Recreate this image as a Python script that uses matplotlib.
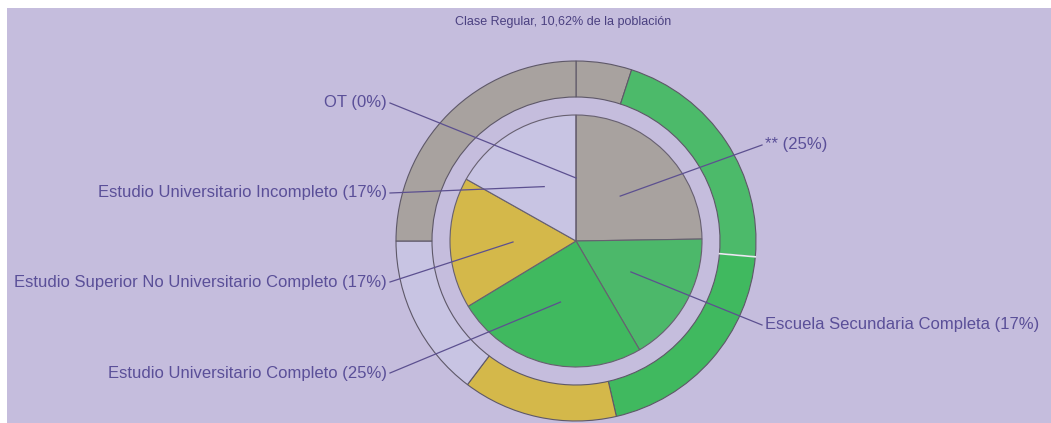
import matplotlib
matplotlib.use('Agg')
from matplotlib import pyplot as plt
import numpy as np

plt.rcParams['font.family'] = ['Liberation Sans', 'DejaVu Sans']

title = 'Clase Regular, 10,62% de la población'

# inner pie, clockwise from 12 o'clock
labels = ['** (25%)', 'Escuela Secundaria Completa (17%)', 'Estudio Universitario Completo (25%)',
          'Estudio Superior No Universitario Completo (17%)', 'Estudio Universitario Incompleto (17%)',
          'OT (0%)']
values = [25, 17, 25, 17, 17, 0]
colors = ['#a8a29f', '#4cb86a', '#40b95f', '#d4b84a', '#c8c4e3', '#a8a29f']

# outer ring, clockwise from 12 o'clock
outer_values = [5, 21.4, 20, 13.9, 14.7, 25]
outer_colors = ['#a8a29f', '#4cba6a', '#40b95f', '#d4b84a', '#c8c4e3', '#a8a29f']

# label positions (x, y in pixels from top) and side
label_pos = [(765, 145, 'left'), (765, 325, 'left'), (387, 373, 'right'),
             (387, 282, 'right'), (387, 193, 'right'), (387, 103, 'right')]

W, H = 1051, 423
bg = '#c5bddd'
txt = '#5a4f98'
cx, cy = 576, H - 241
r_in = 126
r_out = 180
ring_w = 36

fig = plt.figure(figsize=(W / 100, H / 100), dpi=100, facecolor='white')
ax = fig.add_axes([7 / W, 0, (W - 7) / W, (H - 8) / H])

wedges, _ = ax.pie(values, radius=r_in, center=(cx, cy), startangle=90, counterclock=False,
                   colors=colors, frame=True,
                   wedgeprops=dict(edgecolor='#676070', linewidth=0.8))
ring, _ = ax.pie(outer_values, radius=r_out, center=(cx, cy), startangle=90, counterclock=False,
                 colors=outer_colors, frame=True,
                 wedgeprops=dict(width=ring_w, edgecolor='#5e5868', linewidth=0.8))

# light seam between the two green ring pieces
a = np.deg2rad(ring[2].theta2)
ax.plot([cx + (r_out - ring_w) * np.cos(a), cx + r_out * np.cos(a)],
        [cy + (r_out - ring_w) * np.sin(a), cy + r_out * np.sin(a)], color='#e8eef0', lw=1.2)

# leader lines to the middle of each slice at half radius
for w, lab, (lx, ly, side) in zip(wedges, labels, label_pos):
    ang = np.deg2rad((w.theta1 + w.theta2) / 2)
    px = cx + 0.5 * r_in * np.cos(ang)
    py = cy + 0.5 * r_in * np.sin(ang)
    ty = H - ly
    sx = lx + 3 if side == 'right' else lx - 3
    ax.plot([sx, px], [ty, py], color='#5c5090', lw=0.9)
    ax.text(lx, ty, lab, ha=side, va='center', color=txt, fontsize=12)

ax.text(563, H - 22, title, ha='center', va='center', color='#4a4080', fontsize=9)

ax.set_xlim(7, W)
ax.set_ylim(0, H - 8)
ax.set_aspect('auto')
ax.set_facecolor(bg)
ax.set_xticks([])
ax.set_yticks([])
for s in ax.spines.values():
    s.set_visible(False)

fig.savefig('out.png', dpi=100, facecolor='white')
